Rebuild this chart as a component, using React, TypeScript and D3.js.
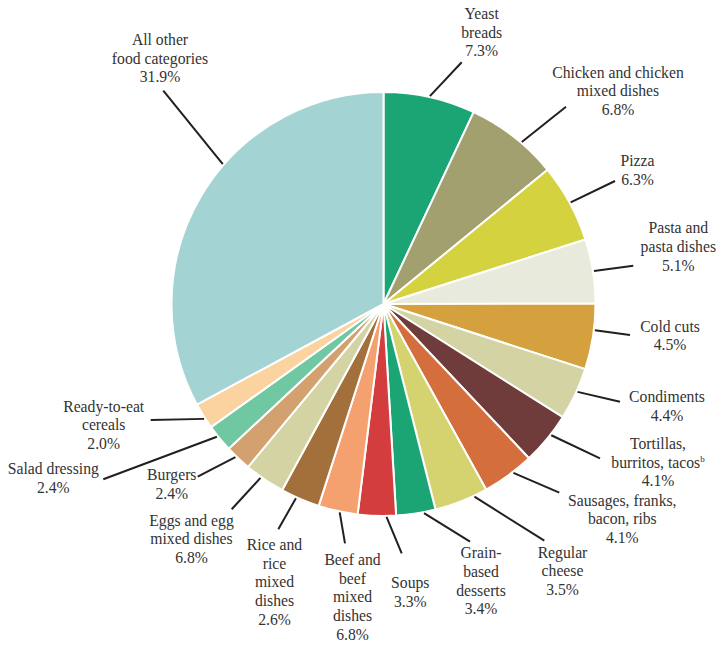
import React from "react";
import * as d3 from "d3";

// Category order (clockwise from 12 o'clock)
const categories = [
  "Yeast breads", "Chicken and chicken mixed dishes", "Pizza", "Pasta and pasta dishes",
  "Cold cuts", "Condiments", "Tortillas, burritos, tacos", "Sausages, franks, bacon, ribs",
  "Regular cheese", "Grain-based desserts", "Soups", "Beef and beef mixed dishes",
  "Rice and rice mixed dishes", "Eggs and egg mixed dishes", "Burgers", "Salad dressing",
  "Ready-to-eat cereals", "All other food categories",
];

// Slice sizes as drawn in the picture (percent of circle)
const sliceShare = [7.0, 7.1, 6.0, 4.9, 5.0, 4.0, 4.0, 4.0, 4.1, 3.0, 2.9, 3.0, 3.0, 3.1, 2.0, 2.1, 2.0, 32.9];

// Printed percentage labels
const printedPct = ["7.3%", "6.8%", "6.3%", "5.1%", "4.5%", "4.4%", "4.1%", "4.1%", "3.5%", "3.4%", "3.3%", "6.8%", "2.6%", "6.8%", "2.4%", "2.4%", "2.0%", "31.9%"];

// Label text lines (without the percentage)
const labelLines = [
  ["Yeast", "breads"],
  ["Chicken and chicken", "mixed dishes"],
  ["Pizza"],
  ["Pasta and", "pasta dishes"],
  ["Cold cuts"],
  ["Condiments"],
  ["Tortillas,", "burritos, tacos"],
  ["Sausages, franks,", "bacon, ribs"],
  ["Regular", "cheese"],
  ["Grain-", "based", "desserts"],
  ["Soups"],
  ["Beef and", "beef", "mixed", "dishes"],
  ["Rice and", "rice", "mixed", "dishes"],
  ["Eggs and egg", "mixed dishes"],
  ["Burgers"],
  ["Salad dressing"],
  ["Ready-to-eat", "cereals"],
  ["All other", "food categories"],
];

const footnotes = ["", "", "", "", "", "", "b", "", "", "", "", "", "", "", "", "", "", ""];

const colors = [
  "#1ba474", "#a3a06f", "#d4d23e", "#e8eadc", "#d4a13e", "#d3d3a4", "#6f3b3b", "#d46f3d", "#d4d36f",
  "#1ba474", "#d43d3e", "#f5a16f", "#a36f3b", "#d3d3a4", "#d3a06f", "#6fc8a1", "#fad3a1", "#a3d3d3",
];

// Layout: label centre x, first baseline y, leader outer end, anchor fraction within slice
const layout = [
  { x: 481.7, y: 18.8, lx: 461.7, ly: 62.3, t: 0.5 },
  { x: 618, y: 77.5, lx: 566, ly: 106.7, t: 0.6 },
  { x: 637.5, y: 166, lx: 615, ly: 181, t: 0.5 },
  { x: 678.3, y: 233.3, lx: 633.3, ly: 265.7, t: 0.5 },
  { x: 670, y: 331.7, lx: 630, ly: 335, t: 0.4 },
  { x: 667, y: 402.3, lx: 620, ly: 401.7, t: 0.45 },
  { x: 658, y: 449, lx: 600, ly: 458.3, t: 0.4 },
  { x: 622.3, y: 505.7, lx: 559.3, ly: 492.7, t: 0.4 },
  { x: 562.5, y: 557.5, lx: 544.3, ly: 540.7, t: 0.25 },
  { x: 481, y: 558.3, lx: 470, ly: 541.7, t: 0.3 },
  { x: 410.3, y: 588.3, lx: 401.7, ly: 553.3, t: 0.25 },
  { x: 352.5, y: 565, lx: 345, ly: 543.3, t: 0.45 },
  { x: 274.5, y: 550, lx: 278.3, ly: 529.3, t: 0.6 },
  { x: 191.5, y: 525.7, lx: 231.7, ly: 509.3, t: 0.6 },
  { x: 171.8, y: 480, lx: 197.7, ly: 476.7, t: 0.6 },
  { x: 53.3, y: 474, lx: 103.3, ly: 479.3, t: 0.6 },
  { x: 103.7, y: 411.7, lx: 150.7, ly: 420, t: 0.4 },
  { x: 160, y: 45, lx: 163.3, ly: 90.7, t: 0.586 },
];

const W = 725;
const H = 650;
const CX = 383.5;
const CY = 304;
const R = 212;
const LINE_H = 18.7;
const FONT = "'Liberation Serif', 'Times New Roman', serif";

export default function App() {
  const data = categories.map((c, i) => ({ name: c, value: sliceShare[i], i }));
  const pie = d3.pie<any>().value((d) => d.value).sort(null);
  const arcs = pie(data);
  const arc = d3.arc<any>().innerRadius(0).outerRadius(R);

  return (
    <svg width={W} height={H} style={{ position: "absolute", left: 0, top: 0, background: "#fff" }}>
      <g transform={`translate(${CX},${CY})`}>
        {arcs.map((a, i) => (
          <path key={i} d={arc(a) as string} fill={colors[i]} stroke="#fff" strokeWidth={2} strokeLinejoin="round" />
        ))}
      </g>
      {arcs.map((a, i) => {
        const L = layout[i];
        const ang = a.startAngle + (a.endAngle - a.startAngle) * L.t;
        const r = R + 1;
        const ix = CX + r * Math.sin(ang);
        const iy = CY - r * Math.cos(ang);
        return (
          <line key={"l" + i} x1={L.lx} y1={L.ly} x2={ix} y2={iy} stroke="#231f20" strokeWidth={2} />
        );
      })}
      {arcs.map((a, i) => {
        const L = layout[i];
        const lines = [...labelLines[i], printedPct[i]];
        return (
          <g key={"t" + i} fontFamily={FONT} fontSize={15.7} fill="#333" textAnchor="middle">
            {lines.map((s, k) => (
              <text key={k} x={L.x} y={L.y + k * LINE_H}>
                {s}
                {k === labelLines[i].length - 1 && footnotes[i] ? (
                  <tspan fontSize={9} dy={-6}>{footnotes[i]}</tspan>
                ) : null}
              </text>
            ))}
          </g>
        );
      })}
    </svg>
  );
}
